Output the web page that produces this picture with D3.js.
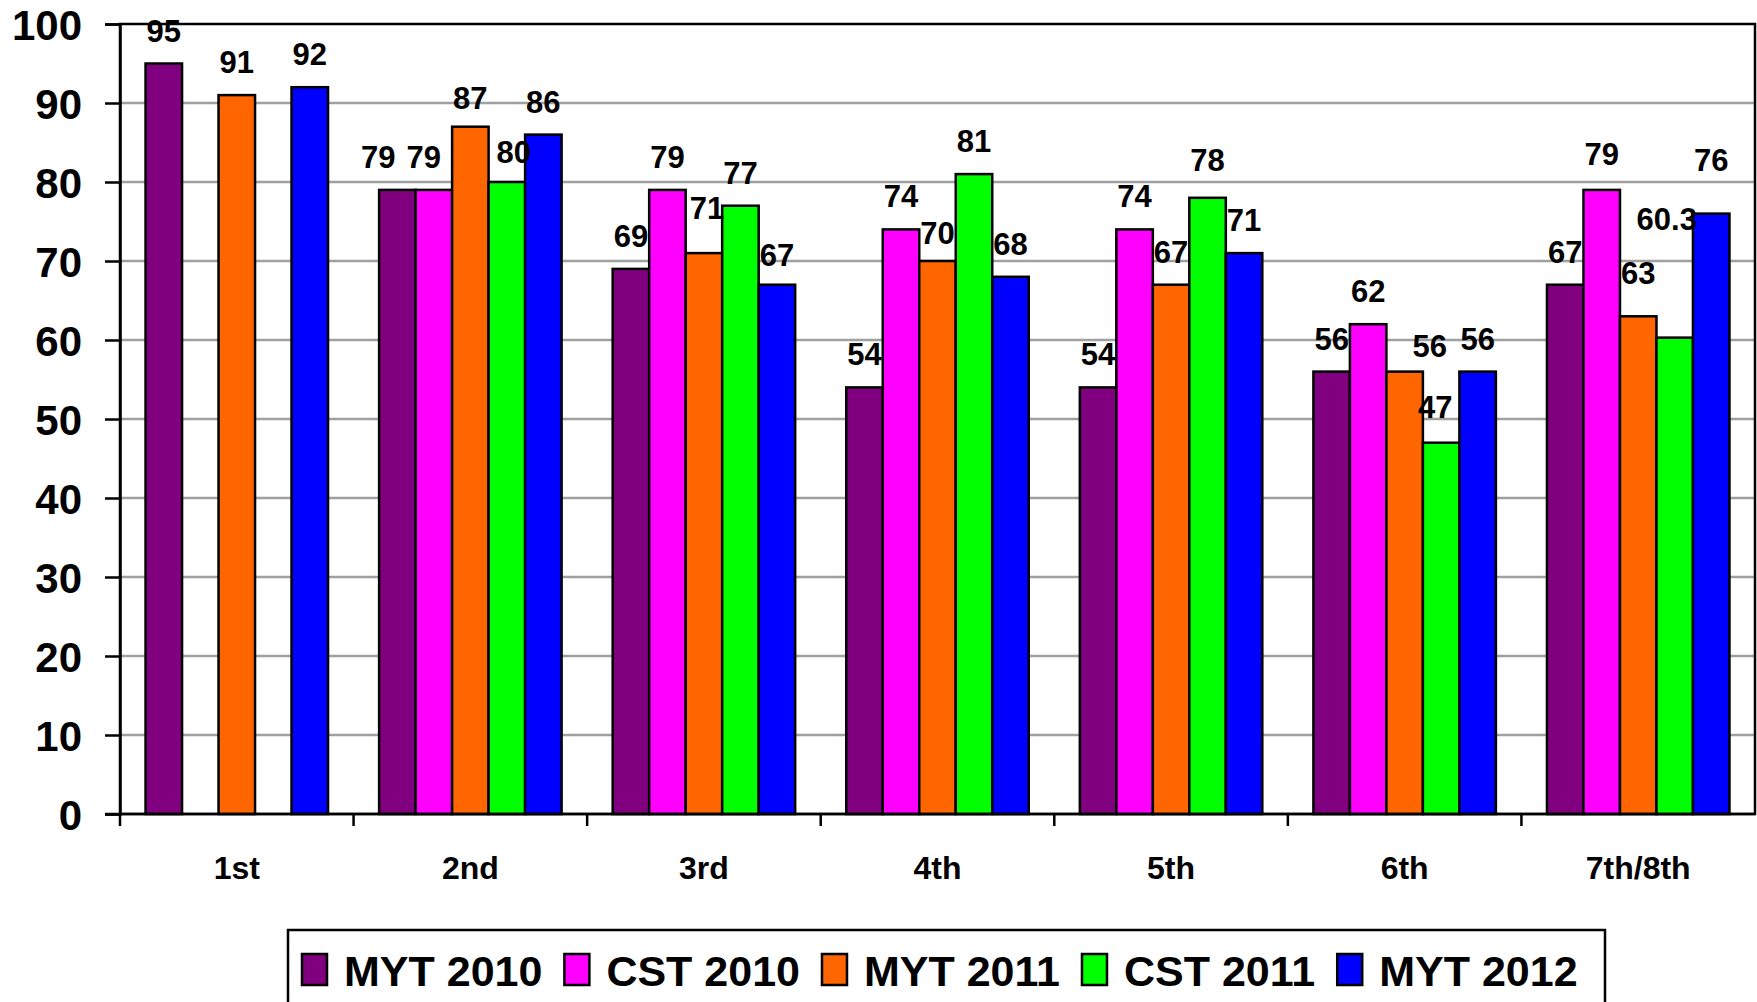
<!DOCTYPE html>
<html>
<head>
<meta charset="utf-8">
<script src="https://cdn.jsdelivr.net/npm/d3@7"></script>
<style>
  body { margin: 0; background: #fff; }
  text { font-family: "Liberation Sans", Arial, sans-serif; font-weight: bold; fill: #000; }
</style>
</head>
<body>
<div id="chart-area"></div>
<script>
// data
var grades = ["1st", "2nd", "3rd", "4th", "5th", "6th", "7th/8th"];
var seriesNames = ["MYT 2010", "CST 2010", "MYT 2011", "CST 2011", "MYT 2012"];
var myt2010 = [95, 79, 69, 54, 54, 56, 67];
var cst2010 = [null, 79, 79, 74, 74, 62, 79];
var myt2011 = [91, 87, 71, 70, 67, 56, 63];
var cst2011 = [null, 80, 77, 81, 78, 47, 60.3];
var myt2012 = [92, 86, 67, 68, 71, 56, 76];
var yTicks = [0, 10, 20, 30, 40, 50, 60, 70, 80, 90, 100];

var colors = ["#800080", "#ff00ff", "#ff6600", "#00ff00", "#0000ff"];
var allValues = [myt2010, cst2010, myt2011, cst2011, myt2012];

// hand moved labels, like in the original sheet
var labelNudge = {
  "2nd|MYT 2010": [-19, 0],
  "2nd|CST 2010": [-10, 0],
  "2nd|MYT 2011": [0, 4],
  "2nd|CST 2011": [7, 3],
  "3rd|MYT 2011": [3, -12],
  "3rd|MYT 2012": [0, 3],
  "4th|MYT 2011": [0, 5],
  "5th|CST 2011": [0, -5],
  "6th|MYT 2011": [25, 7],
  "6th|CST 2011": [-6, -3],
  "7th/8th|CST 2010": [0, -3],
  "7th/8th|MYT 2011": [0, -10],
  "7th/8th|CST 2011": [-8, -86],
  "7th/8th|MYT 2012": [0, -21]
};

var W = 1757, H = 1002;
var plotLeft = 120, plotRight = 1755, plotTop = 24, plotBottom = 814;

var svg = d3.select("#chart-area")
  .append("svg")
    .attr("width", W)
    .attr("height", H);

svg.append("rect")
  .attr("width", W)
  .attr("height", H)
  .attr("fill", "#fff");

var x0 = d3.scaleBand()
  .domain(grades)
  .range([plotLeft, plotRight])
  .paddingInner(0)
  .paddingOuter(0);

var x1 = d3.scaleBand()
  .domain(seriesNames)
  .range([0, x0.bandwidth()])
  .paddingInner(0)
  .paddingOuter(0.7);

var y = d3.scaleLinear()
  .domain([0, 100])
  .range([plotBottom, plotTop]);

// gridlines
svg.append("g")
  .selectAll("line")
  .data(yTicks.slice(1, -1))
  .enter()
  .append("line")
    .attr("x1", plotLeft)
    .attr("x2", plotRight)
    .attr("y1", function(d){ return y(d); })
    .attr("y2", function(d){ return y(d); })
    .attr("stroke", "#a0a0a0")
    .attr("stroke-width", 2.5);

// plot border
svg.append("rect")
  .attr("x", plotLeft)
  .attr("y", plotTop)
  .attr("width", plotRight - plotLeft)
  .attr("height", plotBottom - plotTop)
  .attr("fill", "none")
  .attr("stroke", "#000")
  .attr("stroke-width", 2.5);

// bars
var rows = [];
grades.forEach(function(g, i){
  seriesNames.forEach(function(s, j){
    if (allValues[j][i] != null) {
      rows.push({ grade: g, series: s, value: allValues[j][i], color: colors[j] });
    }
  });
});

svg.append("g")
  .selectAll("rect")
  .data(rows)
  .enter()
  .append("rect")
    .attr("x", function(d){ return x0(d.grade) + x1(d.series); })
    .attr("y", function(d){ return y(d.value); })
    .attr("width", x1.bandwidth())
    .attr("height", function(d){ return y(0) - y(d.value); })
    .attr("fill", function(d){ return d.color; })
    .attr("stroke", "#000")
    .attr("stroke-width", 2.5);

// value labels
svg.append("g")
  .selectAll("text")
  .data(rows)
  .enter()
  .append("text")
    .attr("x", function(d){
      var n = labelNudge[d.grade + "|" + d.series] || [0, 0];
      return x0(d.grade) + x1(d.series) + x1.bandwidth() / 2 + n[0];
    })
    .attr("y", function(d){
      var n = labelNudge[d.grade + "|" + d.series] || [0, 0];
      return y(d.value) - 22 + n[1];
    })
    .attr("text-anchor", "middle")
    .attr("font-size", "31px")
    .text(function(d){ return d.value; });

// y axis
var yAxisCall = d3.axisLeft(y)
  .tickValues(yTicks)
  .tickSize(15)
  .tickPadding(23);

var yAxisGroup = svg.append("g")
  .attr("transform", "translate(" + plotLeft + ", 0)")
  .call(yAxisCall);
yAxisGroup.select(".domain").attr("stroke-width", 2.5);
yAxisGroup.selectAll(".tick line").attr("stroke-width", 2.5);
yAxisGroup.selectAll("text")
  .attr("font-size", "42px")
  .attr("font-family", "Liberation Sans, Arial, sans-serif")
  .attr("font-weight", "bold")
  .attr("dy", "0.38em");

// x axis
svg.append("line")
  .attr("x1", plotLeft - 15)
  .attr("x2", plotRight)
  .attr("y1", plotBottom)
  .attr("y2", plotBottom)
  .attr("stroke", "#000")
  .attr("stroke-width", 2.5);

svg.append("g")
  .selectAll("line")
  .data(grades)
  .enter()
  .append("line")
    .attr("x1", function(d){ return x0(d); })
    .attr("x2", function(d){ return x0(d); })
    .attr("y1", plotBottom)
    .attr("y2", plotBottom + 12)
    .attr("stroke", "#000")
    .attr("stroke-width", 2.5);

svg.append("g")
  .selectAll("text")
  .data(grades)
  .enter()
  .append("text")
    .attr("x", function(d){ return x0(d) + x0.bandwidth() / 2; })
    .attr("y", 879)
    .attr("text-anchor", "middle")
    .attr("font-size", "32px")
    .text(function(d){ return d; });

// legend
svg.append("rect")
  .attr("x", 288)
  .attr("y", 930)
  .attr("width", 1605 - 288)
  .attr("height", 100)
  .attr("fill", "#fff")
  .attr("stroke", "#000")
  .attr("stroke-width", 2.5);

var lx = 302;
seriesNames.forEach(function(s, j){
  svg.append("rect")
    .attr("x", lx)
    .attr("y", 954)
    .attr("width", 25)
    .attr("height", 31)
    .attr("fill", colors[j])
    .attr("stroke", "#000")
    .attr("stroke-width", 2.5);
  var t = svg.append("text")
    .attr("x", lx + 42)
    .attr("y", 986)
    .attr("font-size", "43px")
    .text(s);
  lx = lx + 42 + t.node().getComputedTextLength() + 22;
});
</script>
</body>
</html>
